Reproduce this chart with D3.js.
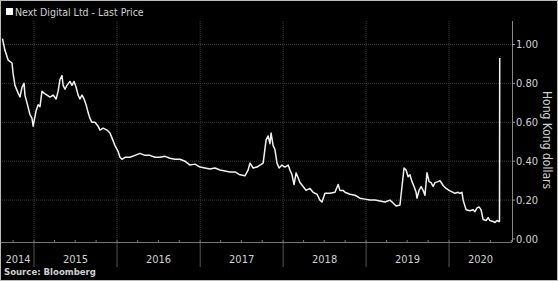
<!DOCTYPE html>
<html>
<head>
<meta charset="utf-8">
<script src="https://cdn.jsdelivr.net/npm/d3@7"></script>
<style>
  body { margin: 0; background: #000; }
  svg { display: block; }
  text { font-family: "DejaVu Sans Condensed", "DejaVu Sans", sans-serif; fill: #d0d0d0; }
</style>
</head>
<body>
<svg width="558" height="281"></svg>
<script>
// Next Digital Ltd, last price (HKD)
const dates = [
  "2014-08-15","2014-08-26","2014-09-09","2014-09-26","2014-10-01","2014-10-09","2014-10-23","2014-10-31",
  "2014-11-09","2014-11-18","2014-11-22","2014-12-01","2014-12-14","2014-12-23","2014-12-28","2015-01-10",
  "2015-01-19","2015-01-27","2015-02-05","2015-02-14","2015-02-27","2015-03-12","2015-03-26","2015-04-08",
  "2015-04-17","2015-04-25","2015-05-04","2015-05-09","2015-05-17","2015-05-26","2015-06-08","2015-06-17",
  "2015-06-26","2015-07-05","2015-07-14","2015-07-22","2015-07-31","2015-08-09","2015-08-18","2015-08-27",
  "2015-09-04","2015-09-13","2015-09-26","2015-10-10","2015-10-18","2015-11-01","2015-11-18","2015-12-01",
  "2015-12-10","2015-12-23","2016-01-06","2016-01-14","2016-01-23","2016-02-05","2016-02-27","2016-03-20",
  "2016-04-11","2016-05-03","2016-05-25","2016-06-16","2016-07-08","2016-07-30","2016-08-21","2016-09-12",
  "2016-10-04","2016-10-26","2016-11-17","2016-12-09","2016-12-31","2017-01-22","2017-02-13","2017-03-07",
  "2017-03-29","2017-04-20","2017-05-12","2017-06-03","2017-06-25","2017-07-17","2017-07-31","2017-08-08",
  "2017-08-22","2017-09-08","2017-09-21","2017-10-05","2017-10-18","2017-10-27","2017-11-04","2017-11-09",
  "2017-11-18","2017-11-26","2017-12-05","2017-12-14","2017-12-27","2018-01-09","2018-01-23","2018-01-31",
  "2018-02-09","2018-02-18","2018-02-27","2018-03-08","2018-03-16","2018-03-30","2018-04-12","2018-04-29",
  "2018-05-13","2018-05-30","2018-06-12","2018-06-21","2018-07-04","2018-07-26","2018-08-17","2018-08-31",
  "2018-09-08","2018-09-22","2018-09-30","2018-10-22","2018-11-13","2018-12-05","2018-12-27","2019-01-18",
  "2019-02-09","2019-03-03","2019-03-25","2019-04-16","2019-04-30","2019-05-13","2019-05-30","2019-06-08",
  "2019-06-17","2019-06-26","2019-07-05","2019-07-13","2019-07-22","2019-07-31","2019-08-09","2019-08-13",
  "2019-08-22","2019-08-31","2019-09-09","2019-09-17","2019-09-26","2019-10-05","2019-10-14","2019-10-23",
  "2019-10-31","2019-11-14","2019-11-22","2019-12-06","2019-12-19","2020-01-01","2020-01-19","2020-01-27",
  "2020-02-10","2020-02-18","2020-02-27","2020-03-03","2020-03-16","2020-04-02","2020-04-16","2020-04-24",
  "2020-05-03","2020-05-12","2020-05-21","2020-05-30","2020-06-12","2020-06-21","2020-06-29","2020-07-13",
  "2020-07-21","2020-07-30","2020-08-08","2020-08-10","2020-08-11"
];
const prices = [
  1.03,0.97,0.92,0.905,0.85,0.79,0.75,0.73,
  0.78,0.80,0.74,0.70,0.64,0.62,0.58,0.66,
  0.69,0.68,0.76,0.75,0.74,0.73,0.74,0.72,
  0.76,0.82,0.84,0.79,0.77,0.79,0.81,0.79,
  0.81,0.78,0.74,0.72,0.74,0.72,0.69,0.65,
  0.62,0.60,0.60,0.58,0.56,0.57,0.56,0.545,
  0.52,0.48,0.45,0.42,0.41,0.42,0.42,0.43,
  0.44,0.43,0.43,0.42,0.42,0.425,0.415,0.41,
  0.41,0.40,0.38,0.385,0.37,0.365,0.36,0.365,
  0.355,0.35,0.345,0.345,0.33,0.325,0.355,0.39,
  0.365,0.37,0.38,0.39,0.51,0.53,0.49,0.545,
  0.48,0.46,0.39,0.365,0.38,0.37,0.38,0.355,
  0.33,0.28,0.34,0.315,0.29,0.27,0.25,0.26,
  0.24,0.23,0.20,0.19,0.235,0.235,0.24,0.28,
  0.25,0.25,0.24,0.23,0.225,0.21,0.205,0.20,
  0.20,0.195,0.19,0.20,0.185,0.17,0.175,0.27,
  0.365,0.355,0.32,0.33,0.295,0.27,0.24,0.21,
  0.25,0.27,0.25,0.225,0.34,0.295,0.29,0.27,
  0.29,0.295,0.30,0.275,0.26,0.25,0.24,0.235,
  0.24,0.235,0.24,0.20,0.15,0.145,0.15,0.14,
  0.16,0.165,0.15,0.10,0.095,0.11,0.095,0.09,
  0.085,0.095,0.09,0.09,0.93
];
const yTicks = [0, 0.2, 0.4, 0.6, 0.8, 1.0];
const years = ["2014","2015","2016","2017","2018","2019","2020"];

const parse = d3.timeParse("%Y-%m-%d");
const data = dates.map((d, i) => ({ date: parse(d), value: prices[i] }));

const svg = d3.select("svg");
const W = 558, H = 281;
const plotLeft = 2, plotRight = 512, plotTop = 21, plotBottom = 242;

svg.append("rect").attr("width", W).attr("height", H).attr("fill", "#000");

const x = d3.scaleTime()
    .domain([parse("2014-08-13"), parse("2020-10-04")])
    .range([plotLeft, plotRight]);
const y = d3.scaleLinear()
    .domain([0, 1.12])
    .range([239, 239 - 1.12 * 194.5]);

// horizontal gridlines
svg.append("g")
  .selectAll("line")
  .data(yTicks.filter(d => d > 0))
  .join("line")
    .attr("x1", 0).attr("x2", plotRight)
    .attr("y1", d => y(d)).attr("y2", d => y(d))
    .attr("stroke", "#3a3a3a")
    .attr("stroke-dasharray", "1,1");

// year boundaries
const yearStarts = years.slice(1).map(s => parse(s + "-01-01"));
svg.append("g")
  .selectAll("line")
  .data(yearStarts)
  .join("line")
    .attr("x1", d => x(d)).attr("x2", d => x(d))
    .attr("y1", plotTop).attr("y2", plotBottom)
    .attr("stroke", "#3a3a3a")
    .attr("stroke-dasharray", "1,1");

svg.append("g")
  .selectAll("line")
  .data(yearStarts)
  .join("line")
    .attr("x1", d => x(d)).attr("x2", d => x(d))
    .attr("y1", plotBottom).attr("y2", 267)
    .attr("stroke", "#555");

// x axis line and quarter ticks
svg.append("line")
    .attr("x1", 0).attr("x2", plotRight)
    .attr("y1", plotBottom + 0.5).attr("y2", plotBottom + 0.5)
    .attr("stroke", "#777");
svg.append("g")
  .selectAll("line")
  .data(d3.timeMonth.every(3).range(x.domain()[0], x.domain()[1]))
  .join("line")
    .attr("x1", d => x(d)).attr("x2", d => x(d))
    .attr("y1", plotBottom - 2).attr("y2", plotBottom)
    .attr("stroke", "#777");

// year labels centred in each year span
svg.append("g")
  .selectAll("text")
  .data(years)
  .join("text")
    .attr("x", s => {
      const a = Math.max(x(parse(s + "-01-01")), plotLeft);
      const b = Math.min(x(parse((+s + 1) + "-01-01")), plotRight);
      return (a + b) / 2;
    })
    .attr("y", 263)
    .attr("text-anchor", "middle")
    .attr("font-size", 11)
    .text(s => s);

// right y axis
svg.append("line")
    .attr("x1", plotRight + 0.5).attr("x2", plotRight + 0.5)
    .attr("y1", plotTop).attr("y2", plotBottom)
    .attr("stroke", "#888");
const yt = svg.append("g")
  .selectAll("g")
  .data(yTicks)
  .join("g")
    .attr("transform", d => `translate(${plotRight},${y(d)})`);
yt.append("line").attr("x1", 0).attr("x2", 3).attr("stroke", "#999");
yt.append("text")
    .attr("x", 4).attr("dy", "0.35em")
    .attr("font-size", 11)
    .text(d => d3.format(".2f")(d));

svg.append("text")
    .attr("transform", "translate(543,140) rotate(90)")
    .attr("text-anchor", "middle")
    .attr("font-size", 12)
    .text("Hong Kong dollars");

// price line
svg.append("path")
    .datum(data)
    .attr("fill", "none")
    .attr("stroke", "#f2f2f2")
    .attr("stroke-width", 1.5)
    .attr("stroke-linejoin", "round")
    .attr("d", d3.line().x(d => x(d.date)).y(d => y(d.value)));

// legend
svg.append("rect")
    .attr("x", 6).attr("y", 8).attr("width", 7).attr("height", 7)
    .attr("fill", "#fff");
svg.append("text")
    .attr("x", 15).attr("y", 16)
    .attr("font-size", 10.5)
    .text("Next Digital Ltd - Last Price");

svg.append("text")
    .attr("x", 4).attr("y", 275)
    .attr("font-size", 9.5)
    .attr("font-weight", "bold")
    .text("Source: Bloomberg");

// outer frame
svg.append("rect")
    .attr("x", 0.5).attr("y", 0.5).attr("width", W - 1).attr("height", H - 1)
    .attr("fill", "none")
    .attr("stroke", "#bbb");
</script>
</body>
</html>
